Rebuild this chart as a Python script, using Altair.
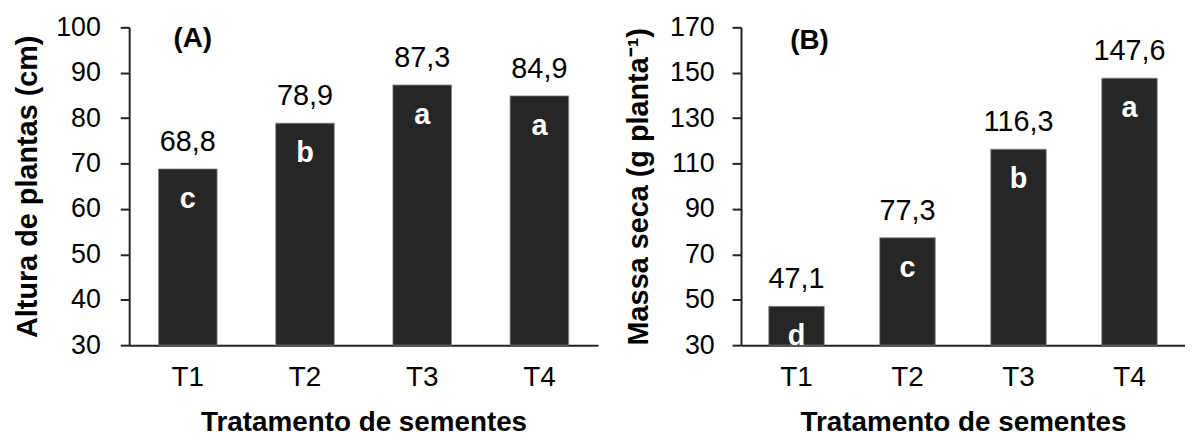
import altair as alt
import pandas as pd

tratamentos = ["T1", "T2", "T3", "T4"]
altura = [68.8, 78.9, 87.3, 84.9]
letras_altura = ["c", "b", "a", "a"]
massa = [47.1, 77.3, 116.3, 147.6]
letras_massa = ["d", "c", "b", "a"]

FONT = "Liberation Sans"
BAR = "#262626"


def fmt(v):
    return f"{v:.1f}".replace(".", ",")


def panel(values, letters, domain, ticks, ytitle, tag, width, label_pad, title_pad, tag_x, tag_y):
    df = pd.DataFrame({
        "trat": tratamentos,
        "val": values,
        "lab": [fmt(v) for v in values],
        "let": letters,
        "base": [domain[0]] * len(values),
    })
    x = alt.X(
        "trat:N",
        sort=tratamentos,
        scale=alt.Scale(paddingInner=0.5, paddingOuter=0.25),
        axis=alt.Axis(
            title="Tratamento de sementes", titleFontSize=28, titleFontWeight="bold",
            titleFont=FONT, titleColor="#000", titlePadding=17,
            labelFontSize=28, labelFont=FONT, labelColor="#000", labelAngle=0,
            labelPadding=19, ticks=False, domainColor="#222", domainWidth=2,
        ),
    )
    y = alt.Y(
        "val:Q",
        scale=alt.Scale(domain=domain, nice=False, zero=False),
        axis=alt.Axis(
            values=ticks, title=ytitle, titleFontSize=29, titleFontWeight="bold",
            titleFont=FONT, titleColor="#000", titlePadding=title_pad,
            labelFontSize=27, labelFont=FONT, labelColor="#000",
            labelPadding=label_pad, tickSize=9, tickWidth=2, tickColor="#222",
            domainColor="#222", domainWidth=2, grid=False,
        ),
    )
    base = alt.Chart(df)
    bars = base.mark_bar(color=BAR, stroke="#8a8a8a", strokeWidth=0.8).encode(
        x=x, y=y, y2=alt.Y2("base:Q")
    )
    vals = base.mark_text(
        baseline="middle", dy=-27, fontSize=29, font=FONT, color="#000"
    ).encode(x=x, y=y, text="lab:N")
    lets = base.mark_text(
        baseline="middle", dy=30, fontSize=29, font=FONT, fontWeight="bold", color="#fff"
    ).encode(x=x, y=y, text="let:N")
    tagc = alt.Chart(pd.DataFrame({"t": [tag]})).mark_text(
        fontSize=28, font=FONT, fontWeight="bold", color="#000", baseline="middle"
    ).encode(x=alt.value(tag_x), y=alt.value(tag_y), text="t:N")
    return alt.layer(bars, vals, lets, tagc).properties(width=width, height=320)


left = panel(altura, letras_altura, [30, 100], list(range(30, 101, 10)),
             "Altura de plantas (cm)", "(A)", 472, 20, 13, 64, 12)
right = panel(massa, letras_massa, [30, 170], list(range(30, 171, 20)),
              "Massa seca (g planta\u207b\u00b9)", "(B)", 447, 18, 16, 69, 14)

chart = (
    alt.hconcat(left, right, spacing=26)
    .properties(padding={"left": 5, "top": 4, "right": 0, "bottom": 0})
    .configure_view(stroke=None)
)

chart.save("out.html", embed_options={"renderer": "svg", "actions": False})
